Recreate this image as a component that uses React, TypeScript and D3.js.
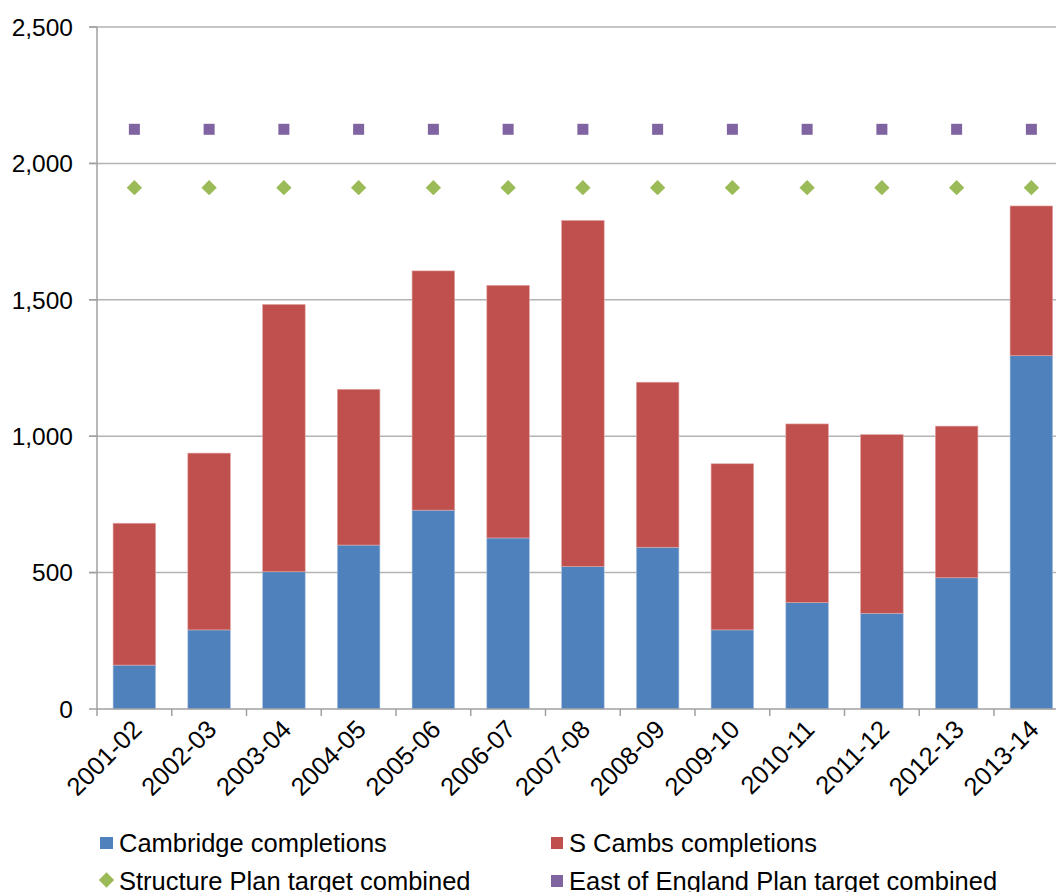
import React from "react";
import * as d3 from "d3";

const categories = ["2001-02","2002-03","2003-04","2004-05","2005-06","2006-07","2007-08","2008-09","2009-10","2010-11","2011-12","2012-13","2013-14"];
const cambridge = [161, 290, 503, 601, 729, 627, 522, 593, 290, 390, 351, 481, 1295];
const sCambs = [520, 648, 980, 571, 877, 926, 1269, 605, 609, 655, 655, 556, 549];
const structurePlan = [1911, 1911, 1911, 1911, 1911, 1911, 1911, 1911, 1911, 1911, 1911, 1911, 1911];
const eastEngland = [2125, 2125, 2125, 2125, 2125, 2125, 2125, 2125, 2125, 2125, 2125, 2125, 2125];
const yTicks = [0, 500, 1000, 1500, 2000, 2500];

const W = 1056, H = 892;
const left = 97, top = 27, bottom = 709;
const BLUE = "#4F81BD", RED = "#C0504D", GREEN = "#9BBB59", PURPLE = "#8064A2";
const FONT = "'Liberation Sans', Arial, sans-serif";

export default function App() {
  const x = d3.scaleBand<string>().domain(categories).range([left, left + 13 * 74.75]).paddingInner(0.43).paddingOuter(0.215);
  const y = d3.scaleLinear().domain([0, 2500]).range([bottom, top]);
  const fmt = d3.format(",");
  const step = x.step();
  const bw = x.bandwidth();
  const diamond = d3.symbol().type(d3.symbolDiamond2).size(150)();
  return (
    <svg width={W} height={H} style={{ position: "absolute", left: 0, top: 0, background: "#fff" }} fontFamily={FONT}>
      {yTicks.map((t) => (
        <g key={t}>
          {t > 0 && <line x1={left - 8} x2={W} y1={y(t)} y2={y(t)} stroke="#B3B3B3" strokeWidth={1.5} />}
          <line x1={left - 8} x2={left} y1={y(t)} y2={y(t)} stroke="#A0A0A0" strokeWidth={1.5} />
          <text x={73} y={y(t)} dy="0.36em" textAnchor="end" fontSize={24.5} fill="#000">{fmt(t)}</text>
        </g>
      ))}
      {categories.map((c, i) => {
        const x0 = x(c)!;
        const yb = y(cambridge[i]);
        const yr = y(cambridge[i] + sCambs[i]);
        return (
          <g key={c}>
            <rect x={x0} y={yb} width={bw} height={bottom - yb} fill={BLUE} stroke="#AFC3E0" strokeWidth={0.6} />
            <rect x={x0} y={yr} width={bw} height={yb - yr} fill={RED} stroke="#E3A8A6" strokeWidth={0.6} />
          </g>
        );
      })}
      <line x1={left} x2={left} y1={top} y2={bottom} stroke="#A0A0A0" strokeWidth={1.5} />
      <line x1={left} x2={W} y1={bottom} y2={bottom} stroke="#A0A0A0" strokeWidth={1.5} />
      {categories.map((c, i) => (
        <line key={"t" + c} x1={left + i * step} x2={left + i * step} y1={bottom} y2={bottom + 7} stroke="#A0A0A0" strokeWidth={1.5} />
      ))}
      {categories.map((c, i) => {
        const cx = x(c)! + bw / 2;
        return (
          <g key={"m" + c}>
            <path d={diamond!} transform={`translate(${cx},${y(structurePlan[i])})`} fill={GREEN} />
            <rect x={cx - 5.5} y={y(eastEngland[i]) - 5.5} width={11} height={11} fill={PURPLE} />
          </g>
        );
      })}
      {categories.map((c) => {
        const cx = x(c)! + bw / 2;
        return (
          <text key={"l" + c} transform={`translate(${cx + 9},${bottom + 22}) rotate(-45)`} textAnchor="end" fontSize={25.5} fill="#000">{c}</text>
        );
      })}
      <g fontSize={25.5} fill="#000">
        <rect x={100} y={837} width={13} height={12} fill={BLUE} />
        <text x={119} y={843} dy="0.36em">Cambridge completions</text>
        <rect x={551} y={837} width={12} height={12} fill={RED} />
        <text x={569} y={843} dy="0.36em">S Cambs completions</text>
        <path d={diamond!} transform={`translate(${106.5},${880})`} fill={GREEN} />
        <text x={119} y={881} dy="0.36em">Structure Plan target combined</text>
        <rect x={551} y={875} width={12} height={12} fill={PURPLE} />
        <text x={569} y={881} dy="0.36em">East of England Plan target combined</text>
      </g>
    </svg>
  );
}
